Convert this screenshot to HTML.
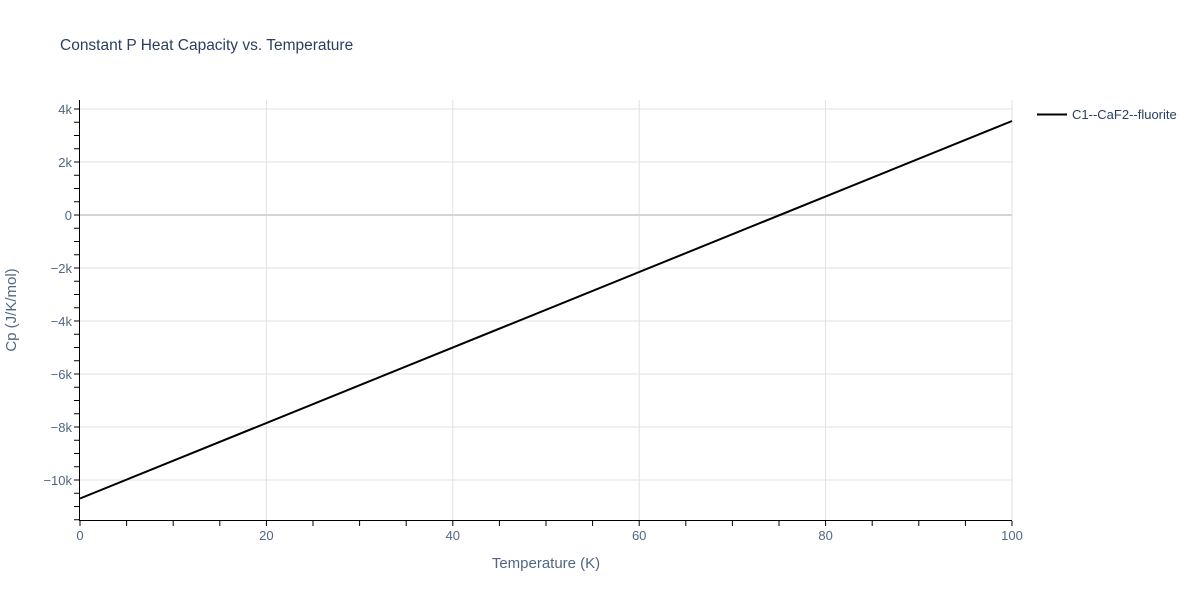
<!DOCTYPE html>
<html><head><style>body{margin:0;background:#fff}svg{display:block;font-family:"Liberation Sans",sans-serif}</style></head>
<body>
<svg width="1200" height="600" xmlns="http://www.w3.org/2000/svg">
<rect width="1200" height="600" fill="#fff"/>
<text x="60" y="50" font-size="15.5" fill="#2a3f5f">Constant P Heat Capacity vs. Temperature</text>
<g stroke="#e1e1e1" stroke-width="1">
<line x1="266.4" y1="100" x2="266.4" y2="520"/><line x1="452.8" y1="100" x2="452.8" y2="520"/><line x1="639.2" y1="100" x2="639.2" y2="520"/><line x1="825.6" y1="100" x2="825.6" y2="520"/><line x1="1012" y1="100" x2="1012" y2="520"/>
<line x1="80" y1="109" x2="1012" y2="109"/><line x1="80" y1="162" x2="1012" y2="162"/><line x1="80" y1="268" x2="1012" y2="268"/><line x1="80" y1="321" x2="1012" y2="321"/><line x1="80" y1="374" x2="1012" y2="374"/><line x1="80" y1="427" x2="1012" y2="427"/><line x1="80" y1="480" x2="1012" y2="480"/>
</g>
<line x1="80" y1="215" x2="1012" y2="215" stroke="#d4d4d4" stroke-width="2"/>
<polyline points="80,498.5 1012,121" fill="none" stroke="#000" stroke-width="2"/>
<g stroke="#000" stroke-width="1" fill="none">
<line x1="79.5" y1="100" x2="79.5" y2="520.5"/><line x1="79" y1="520.5" x2="1012" y2="520.5"/>
<path d="M74 519.75h5M74 506.5h5M74 493.25h5M74 480h5M74 466.75h5M74 453.5h5M74 440.25h5M74 427h5M74 413.75h5M74 400.5h5M74 387.25h5M74 374h5M74 360.75h5M74 347.5h5M74 334.25h5M74 321h5M74 307.75h5M74 294.5h5M74 281.25h5M74 268h5M74 254.75h5M74 241.5h5M74 228.25h5M74 215h5M74 201.75h5M74 188.5h5M74 175.25h5M74 162h5M74 148.75h5M74 135.5h5M74 122.25h5M74 109h5"/>
<path d="M80 521v5M126.6 521v5M173.2 521v5M219.8 521v5M266.4 521v5M313 521v5M359.6 521v5M406.2 521v5M452.8 521v5M499.4 521v5M546 521v5M592.6 521v5M639.2 521v5M685.8 521v5M732.4 521v5M779 521v5M825.6 521v5M872.2 521v5M918.8 521v5M965.4 521v5M1012 521v5"/>
</g>
<g font-size="13" fill="#506784" text-anchor="end">
<text x="72" y="114">4k</text><text x="72" y="167">2k</text><text x="72" y="220">0</text><text x="72" y="273">−2k</text><text x="72" y="326">−4k</text><text x="72" y="379">−6k</text><text x="72" y="432">−8k</text><text x="72" y="485">−10k</text>
</g>
<g font-size="13" fill="#506784" text-anchor="middle">
<text x="80" y="540">0</text><text x="266.4" y="540">20</text><text x="452.8" y="540">40</text><text x="639.2" y="540">60</text><text x="825.6" y="540">80</text><text x="1012" y="540">100</text>
</g>
<text x="546" y="568" font-size="15" fill="#506784" text-anchor="middle">Temperature (K)</text>
<text transform="translate(16,310) rotate(-90)" font-size="15" fill="#506784" text-anchor="middle">Cp (J/K/mol)</text>
<line x1="1037" y1="114.5" x2="1067" y2="114.5" stroke="#000" stroke-width="2"/>
<text x="1072" y="119" font-size="13" fill="#2a3f5f">C1--CaF2--fluorite</text>
</svg>
</body></html>
